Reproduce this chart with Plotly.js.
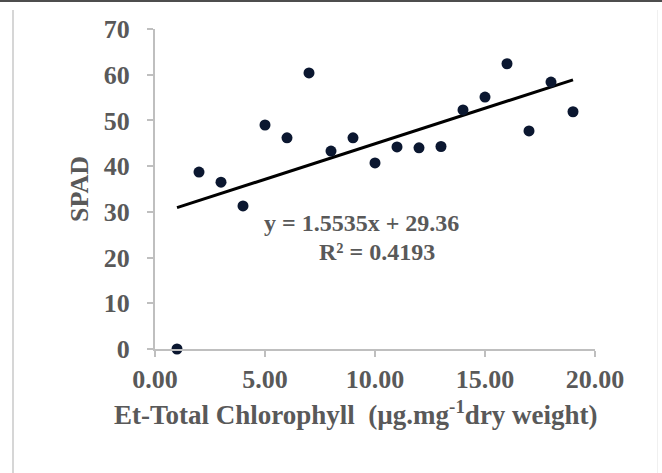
<!DOCTYPE html>
<html>
<head>
<meta charset="utf-8">
<script src="https://cdn.plot.ly/plotly-3.0.1.min.js"></script>
<style>
  html, body { margin: 0; padding: 0; background: #fff; }
  #wrap { position: relative; width: 662px; height: 473px; overflow: hidden; }
  #topline { position: absolute; left: 0; top: 0; width: 662px; height: 2px; background: #4d4d4d; z-index: 5; }
  #leftline { position: absolute; left: 12px; top: 10px; width: 2px; height: 463px; background: #d6d6d6; z-index: 5; }
  #rightline { position: absolute; left: 657px; top: 10px; width: 1px; height: 463px; background: #f0f0f0; z-index: 5; }
  #chart { position: absolute; left: 0; top: 0; width: 662px; height: 473px; }
</style>
</head>
<body>
<div id="wrap">
  <div id="chart"></div>
  <div id="topline"></div>
  <div id="leftline"></div>
  <div id="rightline"></div>
</div>
<script>
// Data
const chlorophyll = [1, 2, 3, 4, 5, 6, 7, 8, 9, 10, 11, 12, 13, 14, 15, 16, 17, 18, 19];
const spad = [0, 38.7, 36.5, 31.3, 49.0, 46.2, 60.4, 43.3, 46.2, 40.7, 44.2, 44.0, 44.3, 52.3, 55.1, 62.4, 47.7, 58.4, 51.9];
const slope = 1.5535;
const intercept = 29.36;
const equationText = 'y = 1.5535x + 29.36';
const r2Text = 'R² = 0.4193';
const xTitleText = 'Et-Total Chlorophyll  (µg.mg<sup>-1</sup>dry weight)';
const yTitleText = 'SPAD';
const xTickVals = [0, 5, 10, 15, 20];
const xTickText = ['0.00', '5.00', '10.00', '15.00', '20.00'];
const yTickVals = [0, 10, 20, 30, 40, 50, 60, 70];

const xMin = Math.min(...chlorophyll);
const xMax = Math.max(...chlorophyll);
const trendX = [xMin, xMax];
const trendY = trendX.map(v => slope * v + intercept);

const fontFam = 'Liberation Serif, Times New Roman, serif';
const textGray = '#595959';
const axisGray = '#bfbfbf';

const traces = [
  {
    x: trendX, y: trendY, type: 'scatter', mode: 'lines',
    line: { color: '#000000', width: 3 }, hoverinfo: 'skip', showlegend: false
  },
  {
    x: chlorophyll, y: spad, type: 'scatter', mode: 'markers',
    marker: { color: '#0b1730', size: 11 }, showlegend: false, cliponaxis: false
  }
];

const layout = {
  width: 662, height: 473,
  margin: { l: 155, r: 67, t: 29, b: 124 },
  paper_bgcolor: '#ffffff', plot_bgcolor: '#ffffff',
  showlegend: false,
  font: { family: fontFam, color: textGray },
  xaxis: {
    range: [0, 20], tickvals: xTickVals, ticktext: xTickText,
    showgrid: false, zeroline: false, showline: true, linecolor: axisGray, linewidth: 2,
    ticks: 'outside', ticklen: 6, tickcolor: axisGray, tickwidth: 2,
    tickfont: { family: fontFam, size: 26, color: textGray, weight: 'bold' }
  },
  yaxis: {
    range: [0, 70], tickvals: yTickVals,
    showgrid: false, zeroline: false, showline: true, linecolor: axisGray, linewidth: 2,
    ticks: 'outside', ticklen: 6, tickcolor: axisGray, tickwidth: 2,
    ticklabelstandoff: 12,
    tickfont: { family: fontFam, size: 26, color: textGray, weight: 'bold' },
    title: { text: yTitleText, font: { family: fontFam, size: 26, color: textGray, weight: 'bold' }, standoff: 8 }
  },
  annotations: [
    { xref: 'paper', yref: 'paper', x: 0.457, y: -0.2, xanchor: 'center', yanchor: 'middle',
      text: xTitleText, showarrow: false,
      font: { family: fontFam, size: 27, color: textGray, weight: 'bold' } },
    { xref: 'x', yref: 'y', x: 9.4, y: 27.6, text: equationText, showarrow: false,
      font: { family: fontFam, size: 24, color: textGray, weight: 'bold' } },
    { xref: 'x', yref: 'y', x: 10.1, y: 21.2, text: r2Text, showarrow: false,
      font: { family: fontFam, size: 24, color: textGray, weight: 'bold' } }
  ]
};

Plotly.newPlot('chart', traces, layout, { displayModeBar: false, staticPlot: true });
</script>
</body>
</html>
